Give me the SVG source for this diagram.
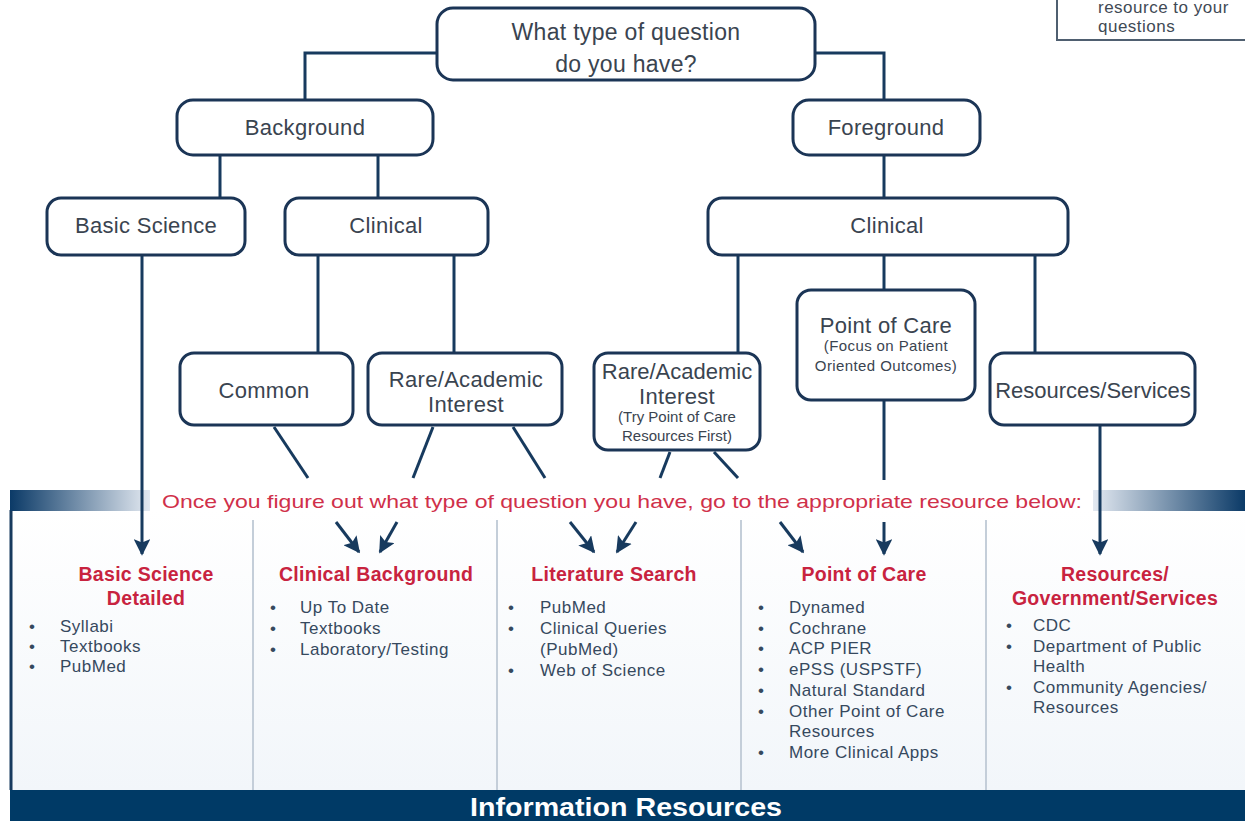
<svg xmlns="http://www.w3.org/2000/svg" width="1245" height="821" viewBox="0 0 1245 821">
<defs>
<linearGradient id="gl" x1="0" y1="0" x2="1" y2="0"><stop offset="0" stop-color="#0b3a67"/><stop offset="1" stop-color="#e3e9f1"/></linearGradient>
<linearGradient id="gr" x1="0" y1="0" x2="1" y2="0"><stop offset="0" stop-color="#e3e9f1"/><stop offset="1" stop-color="#0b3a67"/></linearGradient>
<linearGradient id="panel" x1="0" y1="0" x2="0" y2="1"><stop offset="0" stop-color="#ffffff"/><stop offset="1" stop-color="#f2f6fa"/></linearGradient>
<marker id="ah" viewBox="0 0 10 10" refX="9" refY="5" markerWidth="5.5" markerHeight="5.5" orient="auto" markerUnits="strokeWidth"><path d="M0,0 L10,5 L0,10 L2,5 Z" fill="#173a5e"/></marker>
</defs>
<style>
.box{fill:#fff;stroke:#1b3556;stroke-width:3}
.t{font-family:"Liberation Sans",Arial,sans-serif;fill:#3a4450;text-anchor:middle}
.big{font-size:22px;letter-spacing:0.3px}
.sm{font-size:15px;letter-spacing:0.4px}
.ln{fill:none;stroke:#173a5e;stroke-width:3}
.hd{font-family:"Liberation Sans",Arial,sans-serif;font-weight:bold;font-size:19.5px;fill:#c8233f;text-anchor:middle;letter-spacing:0.3px}
.li{font-family:"Liberation Sans",Arial,sans-serif;font-size:17px;fill:#36495e;letter-spacing:0.5px}
.sep{stroke:#c4ced9;stroke-width:2}
</style>
<rect width="1245" height="821" fill="#fff"/>

<g id="note">
<path d="M1057,-5 V40 H1250" fill="#fff" stroke="#4f5f70" stroke-width="2"/>
<text class="li" x="1098" y="13" style="font-size:17px;fill:#3f4a55">resource to your</text>
<text class="li" x="1098" y="32" style="font-size:17px;fill:#3f4a55">questions</text>
</g>

<g id="panel-area">
<rect x="10" y="510" width="1235" height="280" fill="url(#panel)"/>
<line x1="11" y1="510" x2="11" y2="790" stroke="#173a5e" stroke-width="3"/>
<line class="sep" x1="253" y1="520" x2="253" y2="790"/>
<line class="sep" x1="497" y1="520" x2="497" y2="790"/>
<line class="sep" x1="741" y1="520" x2="741" y2="790"/>
<line class="sep" x1="986" y1="520" x2="986" y2="790"/>
<rect x="10" y="490" width="140" height="21" fill="url(#gl)"/>
<rect x="1093" y="490" width="152" height="21" fill="url(#gr)"/>
<text x="622" y="508" textLength="920" lengthAdjust="spacingAndGlyphs" style="font-family:'Liberation Sans',Arial,sans-serif;font-size:19px;fill:#d0304a;text-anchor:middle">Once you figure out what type of question you have, go to the appropriate resource below:</text>
<rect x="10" y="790" width="1235" height="31" fill="#003a66"/>
<text x="626" y="816" textLength="312" lengthAdjust="spacingAndGlyphs" style="font-family:'Liberation Sans',Arial,sans-serif;font-weight:bold;font-size:25px;fill:#fff;text-anchor:middle">Information Resources</text>
</g>

<g id="connectors">
<path class="ln" d="M437,53 H305 V100"/>
<path class="ln" d="M815,53 H884 V100"/>
<path class="ln" d="M220,155 V198"/>
<path class="ln" d="M378,155 V198"/>
<path class="ln" d="M884,155 V198"/>
<path class="ln" d="M318,255 V353"/>
<path class="ln" d="M454,255 V353"/>
<path class="ln" d="M738,255 V353"/>
<path class="ln" d="M884,255 V290"/>
<path class="ln" d="M1035,255 V353"/>
<path class="ln" d="M142,255 V554" marker-end="url(#ah)"/>
<path class="ln" d="M1100,425 V554" marker-end="url(#ah)"/>
<path class="ln" d="M884,400 V480"/>
<path class="ln" d="M884,522 V554" marker-end="url(#ah)"/>
<path class="ln" d="M274,427 L308,478"/>
<path class="ln" d="M336,522 L359,552" marker-end="url(#ah)"/>
<path class="ln" d="M433,427 L413,478"/>
<path class="ln" d="M397,522 L380,552" marker-end="url(#ah)"/>
<path class="ln" d="M513,427 L545,478"/>
<path class="ln" d="M570,522 L594,552" marker-end="url(#ah)"/>
<path class="ln" d="M670,452 L660,478"/>
<path class="ln" d="M636,522 L617,552" marker-end="url(#ah)"/>
<path class="ln" d="M714,452 L738,478"/>
<path class="ln" d="M780,522 L803,552" marker-end="url(#ah)"/>
</g>

<g id="n-question"><rect class="box" x="437" y="8" width="378" height="72" rx="16"/>
<text class="t big" x="626" y="40" style="font-size:23px">What type of question</text><text class="t big" x="626" y="72" style="font-size:23px">do you have?</text></g>
<g id="n-background"><rect class="box" x="177" y="100" width="256" height="55" rx="16"/><text class="t big" x="305" y="135">Background</text></g>
<g id="n-foreground"><rect class="box" x="793" y="100" width="187" height="55" rx="16"/><text class="t big" x="886" y="135">Foreground</text></g>
<g id="n-basic"><rect class="box" x="47" y="198" width="198" height="57" rx="14"/><text class="t big" x="146" y="233">Basic Science</text></g>
<g id="n-clinical-l"><rect class="box" x="285" y="198" width="203" height="57" rx="14"/><text class="t big" x="386" y="233">Clinical</text></g>
<g id="n-clinical-r"><rect class="box" x="708" y="198" width="360" height="57" rx="14"/><text class="t big" x="887" y="233">Clinical</text></g>
<g id="n-common"><rect class="box" x="180" y="353" width="173" height="72" rx="14"/><text class="t big" x="264" y="398">Common</text></g>
<g id="n-rare-l"><rect class="box" x="368" y="353" width="194" height="72" rx="14"/><text class="t big" x="466" y="387">Rare/Academic</text><text class="t big" x="466" y="412">Interest</text></g>
<g id="n-rare-r"><rect class="box" x="594" y="353" width="166" height="97" rx="14"/><text class="t big" x="677" y="379" style="letter-spacing:0">Rare/Academic</text><text class="t big" x="677" y="404">Interest</text><text class="t sm" x="677" y="422" style="letter-spacing:0">(Try Point of Care</text><text class="t sm" x="677" y="441" style="letter-spacing:0">Resources First)</text></g>
<g id="n-poc"><rect class="box" x="797" y="290" width="178" height="110" rx="14"/><text class="t big" x="886" y="333">Point of Care</text><text class="t sm" x="886" y="351">(Focus on Patient</text><text class="t sm" x="886" y="371">Oriented Outcomes)</text></g>
<g id="n-resources"><rect class="box" x="990" y="353" width="205" height="72" rx="14"/><text class="t big" x="1093" y="398" style="letter-spacing:0">Resources/Services</text></g>

<g id="col-basic">
<text class="hd" x="146" y="581">Basic Science</text><text class="hd" x="146" y="605">Detailed</text>
<text class="li" x="29" y="632">•</text><text class="li" x="60" y="632">Syllabi</text>
<text class="li" x="29" y="652">•</text><text class="li" x="60" y="652">Textbooks</text>
<text class="li" x="29" y="672">•</text><text class="li" x="60" y="672">PubMed</text>
</g>
<g id="col-clinical">
<text class="hd" x="376" y="581">Clinical Background</text>
<text class="li" x="270" y="613">•</text><text class="li" x="300" y="613">Up To Date</text>
<text class="li" x="270" y="634">•</text><text class="li" x="300" y="634">Textbooks</text>
<text class="li" x="270" y="655">•</text><text class="li" x="300" y="655">Laboratory/Testing</text>
</g>
<g id="col-lit">
<text class="hd" x="614" y="581">Literature Search</text>
<text class="li" x="508" y="613">•</text><text class="li" x="540" y="613">PubMed</text>
<text class="li" x="508" y="634">•</text><text class="li" x="540" y="634">Clinical Queries</text>
<text class="li" x="540" y="655">(PubMed)</text>
<text class="li" x="508" y="676">•</text><text class="li" x="540" y="676">Web of Science</text>
</g>
<g id="col-poc">
<text class="hd" x="864" y="581">Point of Care</text>
<text class="li" x="758" y="613">•</text><text class="li" x="789" y="613">Dynamed</text>
<text class="li" x="758" y="634">•</text><text class="li" x="789" y="634">Cochrane</text>
<text class="li" x="758" y="654">•</text><text class="li" x="789" y="654">ACP PIER</text>
<text class="li" x="758" y="675">•</text><text class="li" x="789" y="675">ePSS (USPSTF)</text>
<text class="li" x="758" y="696">•</text><text class="li" x="789" y="696">Natural Standard</text>
<text class="li" x="758" y="717">•</text><text class="li" x="789" y="717">Other Point of Care</text>
<text class="li" x="789" y="737">Resources</text>
<text class="li" x="758" y="758">•</text><text class="li" x="789" y="758">More Clinical Apps</text>
</g>
<g id="col-gov">
<text class="hd" x="1115" y="581">Resources/</text><text class="hd" x="1115" y="605">Government/Services</text>
<text class="li" x="1006" y="631">•</text><text class="li" x="1033" y="631">CDC</text>
<text class="li" x="1006" y="652">•</text><text class="li" x="1033" y="652">Department of Public</text>
<text class="li" x="1033" y="672">Health</text>
<text class="li" x="1006" y="693">•</text><text class="li" x="1033" y="693">Community Agencies/</text>
<text class="li" x="1033" y="713">Resources</text>
</g>
</svg>
